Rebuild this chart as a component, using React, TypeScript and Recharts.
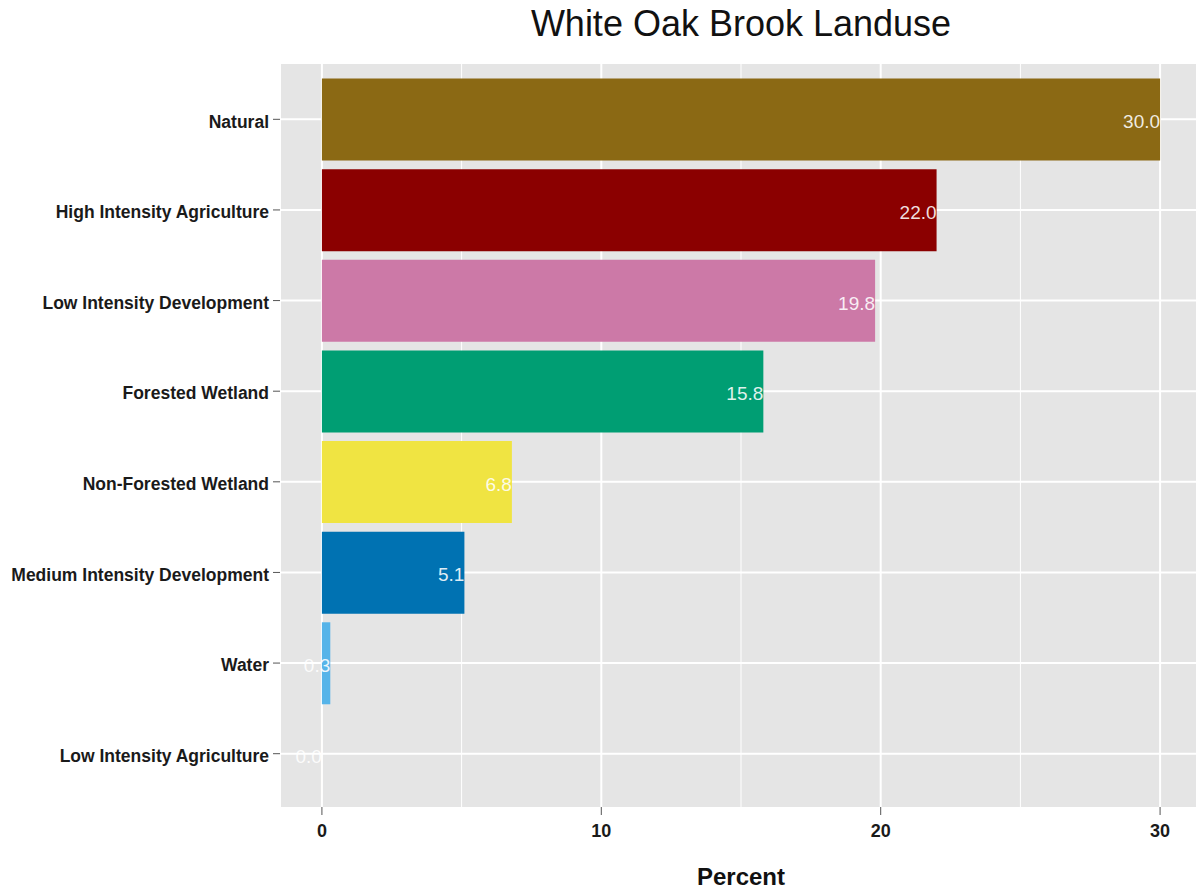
import { BarChart, Bar, XAxis, YAxis, CartesianGrid, Cell, LabelList } from "recharts"

const CATEGORIES = [
  "Natural",
  "High Intensity Agriculture",
  "Low Intensity Development",
  "Forested Wetland",
  "Non-Forested Wetland",
  "Medium Intensity Development",
  "Water",
  "Low Intensity Agriculture",
]

const PERCENTS = [30.0, 22.0, 19.8, 15.8, 6.8, 5.1, 0.3, 0.0]

const COLORS = ["#8B6914", "#8B0000", "#CC79A7", "#009E73", "#F0E442", "#0072B2", "#56B4E9", "#E69F00"]

const X_TICKS = [0, 10, 20, 30]
const X_MINOR = [5, 15, 25]

const FONT = "'Liberation Sans', Arial, sans-serif"

const data = CATEGORIES.map((name, i) => ({ name, value: PERCENTS[i] }))

// horizontal grid lines through the middle of each category band
function categoryLines({ yAxis }: any): number[] {
  const s = yAxis?.scale
  if (!s) return []
  const bw = typeof s.bandwidth === "function" ? s.bandwidth() : 0
  const at = (c: string) => (typeof s === "function" ? s(c) : s.map(c))
  return CATEGORIES.map((c) => at(c) + bw / 2)
}

export default function App() {
  return (
    <div
      style={{
        position: "absolute",
        left: 0,
        top: 0,
        width: 1196,
        height: 890,
        overflow: "hidden",
        background: "#fff",
        fontFamily: FONT,
      }}
    >
      <div
        style={{
          position: "absolute",
          left: 280,
          top: 6,
          width: 922,
          textAlign: "center",
          fontSize: 36,
          lineHeight: "36px",
          color: "#111",
        }}
      >
        White Oak Brook Landuse
      </div>

      <BarChart
        width={1210}
        height={890}
        data={data}
        layout="vertical"
        margin={{ top: 64, right: 8, bottom: 0, left: 0 }}
        barCategoryGap="5%"
      >
        {/* panel + minor grid */}
        <CartesianGrid
          fill="#E5E5E5"
          fillOpacity={1}
          horizontal={false}
          verticalValues={X_MINOR}
          stroke="#ffffff"
          strokeWidth={1}
        />
        {/* major grid */}
        <CartesianGrid
          stroke="#ffffff"
          strokeWidth={2}
          horizontalCoordinatesGenerator={categoryLines}
        />
        <XAxis
          type="number"
          domain={[-1.5, 31.5]}
          ticks={X_TICKS}
          axisLine={false}
          tickSize={8}
          tickMargin={9}
          tickLine={{ stroke: "#555", strokeWidth: 1 }}
          height={83}
          tick={{ fill: "#1a1a1a", fontSize: 18, fontWeight: "bold", fontFamily: FONT }}
        />
        <YAxis
          type="category"
          dataKey="name"
          width={280}
          interval={0}
          axisLine={false}
          tickSize={7}
          tickMargin={4}
          tickLine={{ stroke: "#555", strokeWidth: 1 }}
          padding={{ top: 10, bottom: 8 }}
          tick={{ fill: "#1a1a1a", fontSize: 17.5, fontWeight: "bold", fontFamily: FONT, dy: 2 }}
        />
        <Bar dataKey="value" isAnimationActive={false} minPointSize={0.01}>
          {data.map((d, i) => (
            <Cell key={d.name} fill={COLORS[i]} />
          ))}
          <LabelList
            dataKey="value"
            position="insideRight"
            offset={0}
            formatter={(v: number) => Number(v).toFixed(1)}
            fill="#ffffff"
            fillOpacity={0.88}
            fontSize={19}
            fontFamily={FONT}
            dy={2}
          />
        </Bar>
      </BarChart>

      <div
        style={{
          position: "absolute",
          left: 280,
          top: 865,
          width: 922,
          textAlign: "center",
          fontSize: 24,
          fontWeight: "bold",
          lineHeight: "24px",
          color: "#111",
        }}
      >
        Percent
      </div>
    </div>
  )
}
